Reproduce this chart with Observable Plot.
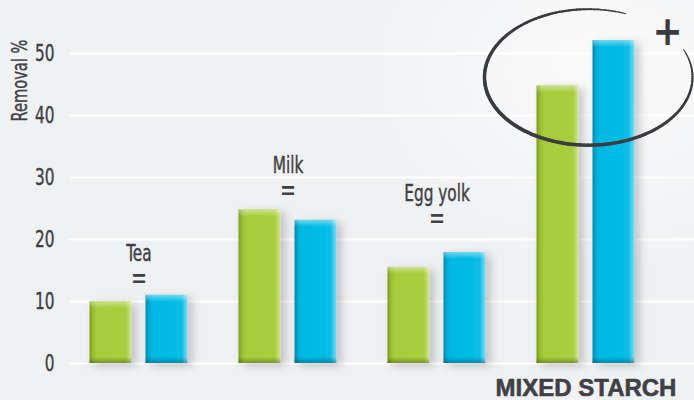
<!DOCTYPE html>
<html>
<head>
<meta charset="utf-8">
<script src="https://cdn.jsdelivr.net/npm/d3@7"></script>
<script src="https://cdn.jsdelivr.net/npm/@observablehq/plot@0.6"></script>
<style>
  html, body { margin: 0; padding: 0; }
  body {
    width: 694px; height: 400px; overflow: hidden;
    background: radial-gradient(ellipse 260px 200px at 600px 70px, #fbfbfc 0%, #f5f6f7 50%, #f0f1f3 100%), #f0f1f3;
  }
</style>
</head>
<body>
<div id="chart"></div>
<script>
// ---- data ----
const categories = ["Tea", "Milk", "Egg yolk", "Mixed starch"];
const greenValues = [10.0, 24.8, 15.5, 44.8];
const blueValues  = [11.0, 23.1, 17.9, 52.1];
const yTicks = [0, 10, 20, 30, 40, 50];
const annotCategories = ["Tea", "Milk", "Egg yolk"];
const annotLevels = [17.8, 31.9, 27.4];
const highlightCategory = "Mixed starch";
const highlightLabel = "MIXED STARCH";
const yLabel = "Removal %";

const data = categories.map((c, i) => ({category: c, green: greenValues[i], blue: blueValues[i]}));
const annots = annotCategories.map((c, i) => ({category: c, level: annotLevels[i]}));

const narrow = "'DejaVu Sans Condensed', 'Liberation Sans Narrow', 'DejaVu Sans', sans-serif";
const textColor = "#3f4144";

const greenInset = {insetLeft: 25.5, insetRight: 81.5};
const blueInset = {insetLeft: 81.5, insetRight: 25.5};

const plot = Plot.plot({
  width: 694,
  height: 400,
  marginLeft: 69,
  marginRight: 0,
  marginTop: 20,
  marginBottom: 37,
  style: {background: "transparent", fontFamily: narrow, fontStretch: "condensed", color: textColor, overflow: "visible"},
  x: {type: "band", domain: categories, range: [63.5, 659.5], padding: 0, axis: null},
  y: {domain: [0, 50], range: [363, 53], axis: null},
  marks: [
    Plot.ruleY(yTicks, {stroke: "#ffffff", strokeWidth: 2}),
    Plot.axisY(yTicks, {tickSize: 0, tickPadding: 15, label: null, fontSize: 23, fill: textColor}),
    Plot.text([yLabel], {frameAnchor: "top-left", text: d => d, rotate: -90, dx: -50, dy: 60,
      textAnchor: "middle", lineAnchor: "middle", fontSize: 22, fill: textColor}),
    // main bars
    Plot.barY(data, {x: "category", y: "green", fill: "url(#gradGreen)", ...greenInset}),
    Plot.barY(data, {x: "category", y: "blue", fill: "url(#gradBlue)", ...blueInset}),
    // top highlights
    Plot.barY(data, {x: "category", y1: "green", y2: "green", insetBottom: -7, fill: "url(#gradTop)", ...greenInset}),
    Plot.barY(data, {x: "category", y1: "blue", y2: "blue", insetBottom: -7, fill: "url(#gradTop)", ...blueInset}),
    // bottom shade
    Plot.barY(data, {x: "category", y1: 0, y2: 0, insetTop: -6, fill: "url(#gradBottom)", ...greenInset}),
    Plot.barY(data, {x: "category", y1: 0, y2: 0, insetTop: -6, fill: "url(#gradBottom)", ...blueInset}),
    // annotations
    Plot.text(annots, {x: "category", y: "level", text: "category", fontSize: 23, fill: textColor}),
    Plot.text(annots, {x: "category", y: "level", text: () => "=", dy: 26, fontSize: 24,
      fontWeight: "bold", fontFamily: "'Liberation Sans', Arial, sans-serif", fill: textColor}),
    Plot.text([highlightLabel], {x: () => highlightCategory, y: () => 0, text: d => d, dy: 25,
      fontSize: 24, fontWeight: "bold", fontFamily: "'Liberation Sans', Arial, sans-serif", fill: textColor,
      stroke: textColor, strokeWidth: 0.6}),
    Plot.text(["+"], {frameAnchor: "top-right", text: d => d, dx: -27, dy: 12, textAnchor: "middle",
      lineAnchor: "middle", fontSize: 40, fontWeight: "bold", fontFamily: "'DejaVu Sans', sans-serif", fill: "#3a3b3d"})
  ]
});

document.getElementById("chart").appendChild(plot);

// condense the narrow-font texts horizontally (reference uses a condensed typeface)
const keepWidth = new Set(["=", "+", highlightLabel]);
plot.querySelectorAll("text").forEach(t => {
  if (keepWidth.has(t.textContent.trim())) return;
  const len = t.getComputedTextLength();
  if (len > 0) {
    t.setAttribute("textLength", (len * 0.74).toFixed(2));
    t.setAttribute("lengthAdjust", "spacingAndGlyphs");
    t.setAttribute("stroke", textColor);
    t.setAttribute("stroke-width", "0.4");
  }
});

// defs: gradients and shadow
const svg = d3.select(plot);
const defs = svg.insert("defs", ":first-child");
function hgrad(id, stops) {
  const g = defs.append("linearGradient").attr("id", id).attr("x1", 0).attr("x2", 1).attr("y1", 0).attr("y2", 0);
  stops.forEach(([o, c, a]) => g.append("stop").attr("offset", o).attr("stop-color", c).attr("stop-opacity", a ?? 1));
}
function vgrad(id, stops) {
  const g = defs.append("linearGradient").attr("id", id).attr("x1", 0).attr("x2", 0).attr("y1", 0).attr("y2", 1);
  stops.forEach(([o, c, a]) => g.append("stop").attr("offset", o).attr("stop-color", c).attr("stop-opacity", a ?? 1));
}
hgrad("gradGreen", [[0, "#7d9c22"], [0.1, "#9cc234"], [0.18, "#a7cc3b"], [0.86, "#a8cd3e"], [0.93, "#bcd968"], [1, "#d2e694"]]);
hgrad("gradBlue", [[0, "#0088ad"], [0.1, "#00afd9"], [0.18, "#00b9e3"], [0.86, "#08bce5"], [0.93, "#47cdee"], [1, "#7cdbf3"]]);
vgrad("gradTop", [[0, "#ffffff", 0.45], [1, "#ffffff", 0]]);
vgrad("gradBottom", [[0, "#000000", 0], [1, "#000000", 0.28]]);
const f = defs.append("filter").attr("id", "shadow").attr("x", "-30%").attr("y", "-10%").attr("width", "160%").attr("height", "130%");
f.append("feDropShadow").attr("dx", 5).attr("dy", 3).attr("stdDeviation", 5).attr("flood-color", "#000").attr("flood-opacity", 0.2);

const barGroups = svg.selectAll('g[aria-label="bar"]').nodes();
barGroups.slice(0, 2).forEach(n => n.setAttribute("filter", "url(#shadow)"));

// hand-drawn ellipse around the highlighted group
const xs = plot.scale("x"), ys = plot.scale("y");
const band = (xs.range[1] - xs.range[0]) / categories.length;
const cx = xs.apply(highlightCategory) + band / 2 + 3;
const cy = ys.apply(46.1);
const rx = 104, ry = 68;
const t0 = -69 * Math.PI / 180, t1 = -384 * Math.PI / 180;
const N = 160;
const g = svg.append("g").attr("stroke", "#3b3c3e").attr("stroke-linecap", "round").attr("fill", "none");
for (let i = 0; i < N; i++) {
  const a = t0 + (t1 - t0) * i / N, b = t0 + (t1 - t0) * (i + 1) / N;
  const s = (i + 0.5) / N;
  const w = 0.8 + 2.8 * Math.pow(Math.sin(Math.PI * s), 0.6);
  g.append("line")
    .attr("x1", cx + rx * Math.cos(a)).attr("y1", cy + ry * Math.sin(a))
    .attr("x2", cx + rx * Math.cos(b)).attr("y2", cy + ry * Math.sin(b))
    .attr("stroke-width", w);
}
</script>
</body>
</html>
